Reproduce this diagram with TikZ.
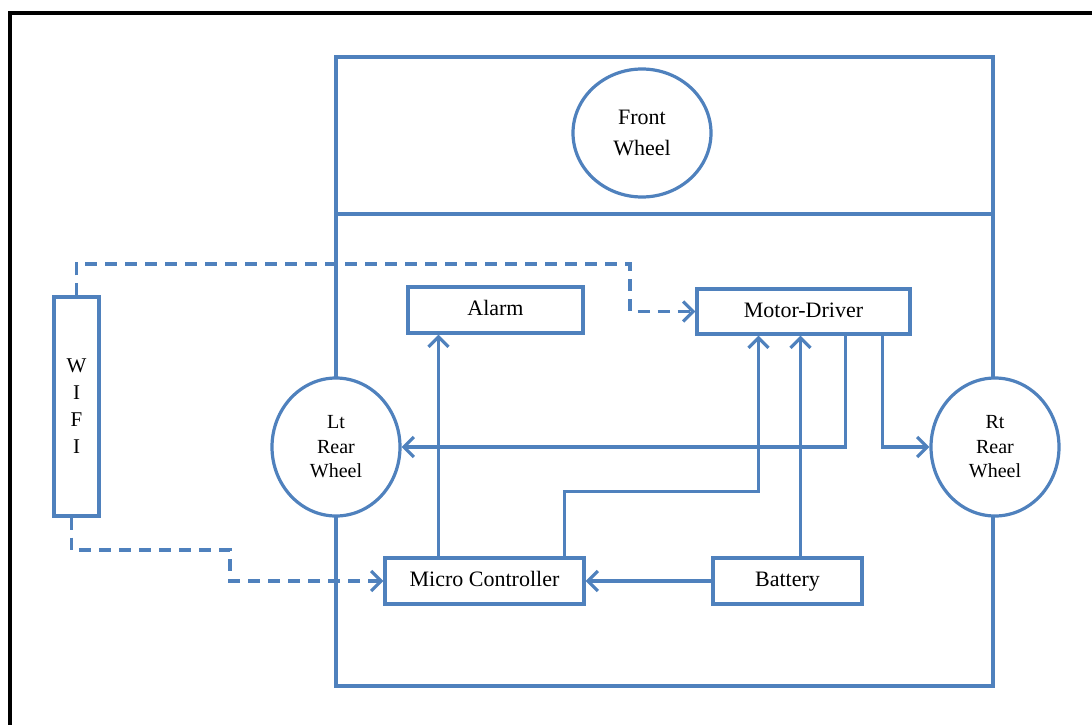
\documentclass[tikz,border=0pt]{standalone}
\usepackage{fontspec}
\setmainfont{Liberation Serif}
\usetikzlibrary{arrows.meta,shapes.geometric}

\definecolor{lineblue}{RGB}{79,129,189}

\tikzset{
  blk/.style={draw=lineblue, line width=3.2pt, fill=white, font=\fontsize{22}{26}\selectfont},
  lbl/.style={blk, text height=15pt, text depth=4pt},
  wheel/.style={ellipse, draw=lineblue, line width=3.2pt, fill=white, align=center,
    inner sep=0pt, minimum width=128pt, minimum height=138pt, font=\fontsize{20}{24.5}\selectfont},
  arr/.style={draw=lineblue, line width=3.2pt, -{Straight Barb[length=10pt,width=20pt,line width=3.2pt]}},
  dasharr/.style={arr, dash pattern=on 12pt off 8pt}
}

\begin{document}
\begin{tikzpicture}[x=1pt,y=-1pt]
    \useasboundingbox (0,0) rectangle (1092,725);
    \clip (0,0) rectangle (1092,725);

    % Draw the page frame
    \draw[line width=4.5pt] (10,740) -- (10,13) -- (1110,13);

    % Draw the body and the front part
    \draw[draw=lineblue, line width=3.2pt] (336,57) rectangle (993,686);
    \draw[draw=lineblue, line width=3.2pt] (336,214) -- (993,214);

    % Draw the wheels
    \node[wheel, minimum width=138pt, minimum height=128pt,
          font=\fontsize{22}{31}\selectfont] (front) at (642,133) {Front\\Wheel};
    \node[wheel] (ltwheel) at (336,447) {Lt\\Rear\\Wheel};
    \node[wheel] (rtwheel) at (995,447) {Rt\\Rear\\Wheel};

    % Draw the blocks
    \node[blk, minimum width=45pt, minimum height=219pt, align=center,
          font=\fontsize{21}{27}\selectfont] (wifi) at (76.5,406.5) {W\\I\\F\\I};
    \node[lbl, minimum width=175pt, minimum height=46pt] (alarm) at (495.5,310) {Alarm};
    \node[lbl, minimum width=213pt, minimum height=45pt] (motor) at (803.5,311.5) {Motor-Driver};
    \node[lbl, minimum width=199pt, minimum height=46pt] (micro) at (484.5,581) {Micro Controller};
    \node[lbl, minimum width=149pt, minimum height=46pt] (battery) at (787.5,581) {Battery};

    % Bends of the wifi links
    \coordinate (bendA) at (630,264);
    \coordinate (bendB) at (230,550);

    % Draw the wifi links
    \draw[dasharr] (wifi.north) |- (bendA) |- (motor.west);
    \draw[dasharr] ([xshift=-5pt]wifi.south) |- (bendB) |- (micro.west);

    % Draw the wired links
    \draw[arr] ([xshift=55pt]micro.north west) -- ([xshift=55pt]micro.north west |- alarm.south);
    \draw[arr] ([xshift=181pt]micro.north west) -- ++(0,-65) -| ([xshift=63pt]motor.south west);
    \draw[arr] ([xshift=89pt]battery.north west) -- ([xshift=89pt]battery.north west |- motor.south);
    \draw[arr] (battery.west) -- (micro.east);
    \draw[arr] ([xshift=150pt]motor.south west) |- (ltwheel.east);
    \draw[arr] ([xshift=187pt]motor.south west) |- (rtwheel.west);

\end{tikzpicture}
\end{document}
